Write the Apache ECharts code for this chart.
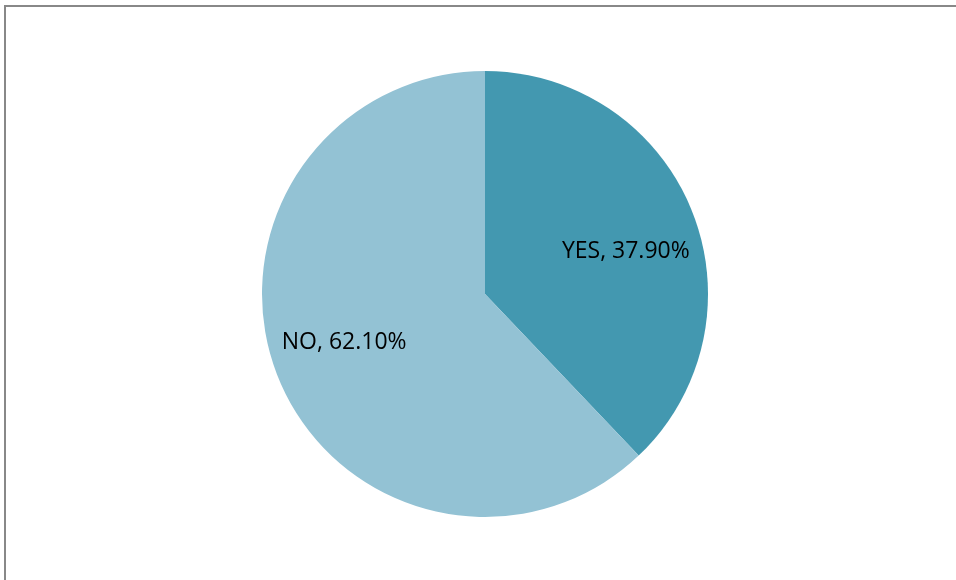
<!DOCTYPE html>
<html>
<head>
<meta charset="utf-8">
<script src="https://cdn.jsdelivr.net/npm/echarts@6/dist/echarts.min.js"></script>
<style>
  html, body { margin: 0; padding: 0; background: #ffffff; }
  #chart { width: 956px; height: 580px; }
</style>
</head>
<body>
<div id="chart"></div>
<script>
// Survey answers and their shares (percent)
const categories = ['YES', 'NO'];
const shares = [37.9, 62.1];
const sliceColors = ['#4398B0', '#93C2D4'];

const CENTER = [485, 294];
const RADIUS = 223;
// Labels sit further out than ECharts' default "inside" position (0.5 r)
const LABEL_RATIO = 0.65;
const LABEL_ANGLE_SHIFT = 4 * Math.PI / 180;
const LABEL_BASELINE_NUDGE = 3;

const total = shares.reduce((a, b) => a + b, 0);
// Mid-angle of each slice, measured clockwise from 12 o'clock
const midAngles = [];
let acc = 0;
shares.forEach(v => {
  const sweep = v / total * 2 * Math.PI;
  midAngles.push(acc + sweep / 2);
  acc += sweep;
});

const chart = echarts.init(document.getElementById('chart'), null, { renderer: 'canvas' });

chart.setOption({
  animation: false,
  backgroundColor: '#ffffff',
  graphic: [{
    type: 'rect',
    shape: { x: 5, y: 6, width: 1000, height: 700 },
    style: { fill: 'none', stroke: '#888888', lineWidth: 2 },
    silent: true
  }],
  series: [{
    type: 'pie',
    center: CENTER,
    radius: RADIUS,
    startAngle: 90,
    clockwise: true,
    avoidLabelOverlap: false,
    data: categories.map((c, i) => ({
      name: c,
      value: shares[i],
      itemStyle: { color: sliceColors[i] }
    })),
    itemStyle: { borderWidth: 0 },
    label: {
      show: true,
      position: 'inside',
      formatter: p => p.name + ', ' + p.value.toFixed(2) + '%',
      color: '#000000',
      fontFamily: 'Open Sans',
      fontSize: 23,
      textBorderWidth: 0
    },
    labelLine: { show: false },
    labelLayout: function (params) {
      const i = params.dataIndex;
      const a0 = midAngles[i];
      const a = a0 + LABEL_ANGLE_SHIFT;
      const r0 = RADIUS * 0.5;
      const r1 = RADIUS * LABEL_RATIO;
      return {
        dx: Math.sin(a) * r1 - Math.sin(a0) * r0,
        dy: -Math.cos(a) * r1 + Math.cos(a0) * r0 + LABEL_BASELINE_NUDGE
      };
    },
    emphasis: { disabled: true }
  }]
});
</script>
</body>
</html>
